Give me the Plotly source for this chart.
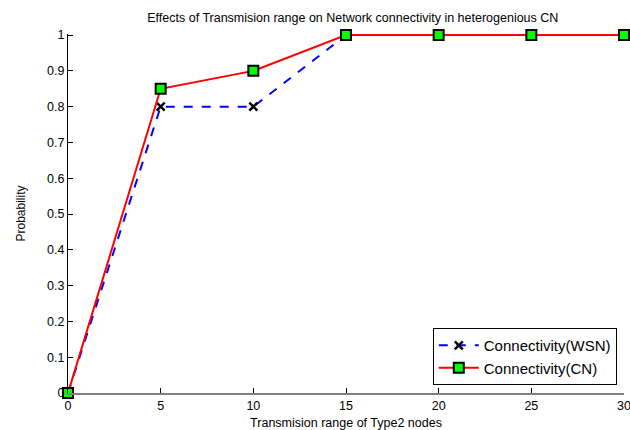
import plotly.graph_objects as go

# Transmission range of Type2 nodes
tx_range = [0, 5, 10, 15, 20, 25, 30]
# Connectivity probability per network type
wsn_conn = [0, 0.8, 0.8, 1, 1, 1, 1]
cn_conn = [0, 0.85, 0.9, 1, 1, 1, 1]

x_ticks = [0, 5, 10, 15, 20, 25, 30]
y_ticks = [0, 0.1, 0.2, 0.3, 0.4, 0.5, 0.6, 0.7, 0.8, 0.9, 1]

fig = go.Figure()
fig.add_trace(go.Scatter(
    x=tx_range, y=wsn_conn, name="Connectivity(WSN)", mode="lines+markers",
    line=dict(color="#0000ff", width=2, dash="dash"),
    marker=dict(symbol="x-thin", size=8, color="black",
                line=dict(color="black", width=2.5)),
    cliponaxis=False,
))
fig.add_trace(go.Scatter(
    x=tx_range, y=cn_conn, name="Connectivity(CN)", mode="lines+markers",
    line=dict(color="#ff0000", width=2),
    marker=dict(symbol="square", size=10, color="#00ff00",
                line=dict(color="black", width=2)),
    cliponaxis=False,
))

font = "Liberation Sans, Arial, sans-serif"
fig.update_layout(
    width=630, height=430,
    margin=dict(l=68, r=6, t=34, b=37),
    paper_bgcolor="white", plot_bgcolor="white",
    font=dict(family=font, size=12.5, color="black"),
    title=dict(text="Effects of Transmision range on Network connectivity in heterogenious CN",
               x=0.56, xanchor="center", y=0.958, yanchor="middle",
               font=dict(size=12.5)),
    showlegend=True,
    legend=dict(x=0.987, xanchor="right", y=0.022, yanchor="bottom",
                bgcolor="white", bordercolor="black", borderwidth=1,
                font=dict(size=15), tracegroupgap=0,
                itemwidth=40),
    xaxis=dict(range=[0, 30], tickvals=x_ticks, showgrid=False, zeroline=False,
               showline=True, linecolor="#808080", linewidth=2,
               ticks="inside", ticklen=5, tickcolor="black",
               ticklabeloverflow="allow", automargin=False,
               title=dict(text="Transmision range of Type2 nodes", standoff=6,
                          font=dict(size=12.5))),
    yaxis=dict(range=[0, 1.003], tickvals=y_ticks, ticktext=[f"{v:g}" for v in y_ticks],
               showgrid=False, zeroline=False, automargin=False,
               showline=True, linecolor="black", linewidth=1,
               ticks="inside", ticklen=5, tickcolor="black",
               title=dict(text="Probability", standoff=18, font=dict(size=12))),
)

fig.write_html("out.html")
